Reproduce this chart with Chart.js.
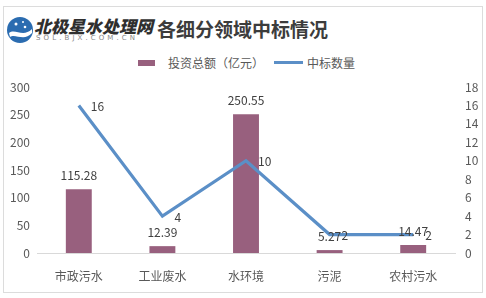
<!DOCTYPE html>
<html>
<head>
<meta charset="utf-8">
<script src="https://cdn.jsdelivr.net/npm/chart.js@4"></script>
<style>
  html, body { margin: 0; padding: 0; background: #fff; }
  #wrap { position: relative; width: 486px; height: 298px; overflow: hidden; font-family: "Noto Sans CJK SC", "Noto Sans", sans-serif; }
  #frame { position: absolute; left: 3px; top: 6px; width: 478px; height: 285px; border: 1px solid #dcdcdc; }
  #logo { position: absolute; left: 6px; top: 16px; }
  #brand { position: absolute; left: 34px; top: 13px; font-size: 17px; font-weight: 900; font-style: italic; color: #2f2f2f; white-space: nowrap; }
  #site { position: absolute; left: 36px; top: 34px; font-size: 7px; color: #888; letter-spacing: 3.1px; font-family: "DejaVu Sans", sans-serif; white-space: nowrap; }
  #title { position: absolute; left: 157px; top: 15px; font-size: 19px; font-weight: 700; color: #3c3c3c; white-space: nowrap; }
  #legend { position: absolute; left: 138px; top: 54px; font-size: 12px; color: #595959; white-space: nowrap; display: flex; align-items: center; }
  .sw-bar { display: inline-block; width: 17px; height: 6px; background: #98607e; margin-right: 13px; }
  .sw-line { display: inline-block; width: 29px; height: 3px; background: #5b8fc7; margin: 0 4px 0 10px; }
  canvas { position: absolute; left: 0; top: 0; }
</style>
</head>
<body>
<div id="wrap">
  <div id="frame"></div>
  <svg id="logo" width="28" height="28" viewBox="0 0 28 28">
    <circle cx="14" cy="14" r="13" fill="#2b6cb0"/>
    <path d="M3 17 C9 12, 17 22, 26 13 L26 17 C18 26, 9 17, 4 21 Z" fill="#fff"/>
    <circle cx="10" cy="8" r="1.5" fill="#fff"/>
    <circle cx="17" cy="6" r="1" fill="#fff"/>
    <circle cx="19" cy="11" r="1.3" fill="#fff"/>
  </svg>
  <div id="brand">北极星水处理网</div>
  <div id="site">SOL.BJX.COM.CN</div>
  <div id="title">各细分领域中标情况</div>
  <div id="legend"><span class="sw-bar"></span>投资总额（亿元）<span class="sw-line"></span>中标数量</div>
  <canvas id="chart" width="486" height="298"></canvas>
</div>
<script>
const categories = ["市政污水", "工业废水", "水环境", "污泥", "农村污水"];
const investment = [115.28, 12.39, 250.55, 5.27, 14.47];
const bidCount = [16, 4, 10, 2, 2];
const leftTicks = [0, 50, 100, 150, 200, 250, 300];
const rightTicks = [0, 2, 4, 6, 8, 10, 12, 14, 16, 18];

const BAR_COLOR = "#98607e";
const LINE_COLOR = "#5b8fc7";
const FONT = "'Noto Sans CJK SC', 'Noto Sans', sans-serif";

// draws the value labels: above bars, right of line points
const valueLabels = {
  id: "valueLabels",
  afterDatasetsDraw(chart) {
    const ctx = chart.ctx;
    ctx.save();
    ctx.font = "12px " + FONT;
    ctx.fillStyle = "#404040";
    ctx.textBaseline = "middle";
    chart.getDatasetMeta(0).data.forEach((el, i) => {
      ctx.textAlign = "center";
      ctx.fillText(String(investment[i]), el.x, el.y - 14);
    });
    chart.getDatasetMeta(1).data.forEach((el, i) => {
      ctx.textAlign = "left";
      ctx.fillText(String(bidCount[i]), el.x + 12, el.y + 1);
    });
    ctx.restore();
  }
};

new Chart(document.getElementById("chart"), {
  type: "bar",
  data: {
    labels: categories,
    datasets: [
      {
        label: "投资总额（亿元）",
        data: investment,
        backgroundColor: BAR_COLOR,
        yAxisID: "y",
        barPercentage: 0.31,
        categoryPercentage: 1,
        order: 2,
      },
      {
        type: "line",
        label: "中标数量",
        data: bidCount,
        borderColor: LINE_COLOR,
        borderWidth: 3.2,
        pointRadius: 0,
        tension: 0,
        yAxisID: "y1",
        order: 1,
      },
    ],
  },
  options: {
    responsive: false,
    animation: false,
    layout: { padding: { top: 87, bottom: 0, left: 0, right: 0 } },
    plugins: { legend: { display: false }, tooltip: { enabled: false } },
    scales: {
      x: {
        grid: { display: false },
        border: { display: true, color: "#d9d9d9", width: 1 },
        ticks: { color: "#595959", font: { size: 12, family: FONT }, padding: 8, maxRotation: 0 },
        afterFit: (s) => { s.height = 45; },
      },
      y: {
        position: "left",
        min: 0, max: 300,
        afterBuildTicks: (s) => { s.ticks = leftTicks.map(v => ({ value: v })); },
        grid: { display: false, drawTicks: false },
        border: { display: false },
        ticks: { color: "#595959", font: { size: 12, family: FONT }, padding: 7 },
        afterFit: (s) => { s.width = 37; },
      },
      y1: {
        position: "right",
        min: 0, max: 18,
        afterBuildTicks: (s) => { s.ticks = rightTicks.map(v => ({ value: v })); },
        grid: { display: false, drawTicks: false },
        border: { display: false },
        ticks: { color: "#595959", font: { size: 12, family: FONT }, padding: 10 },
        afterFit: (s) => { s.width = 31; },
      },
    },
  },
  plugins: [valueLabels],
});
</script>
</body>
</html>
